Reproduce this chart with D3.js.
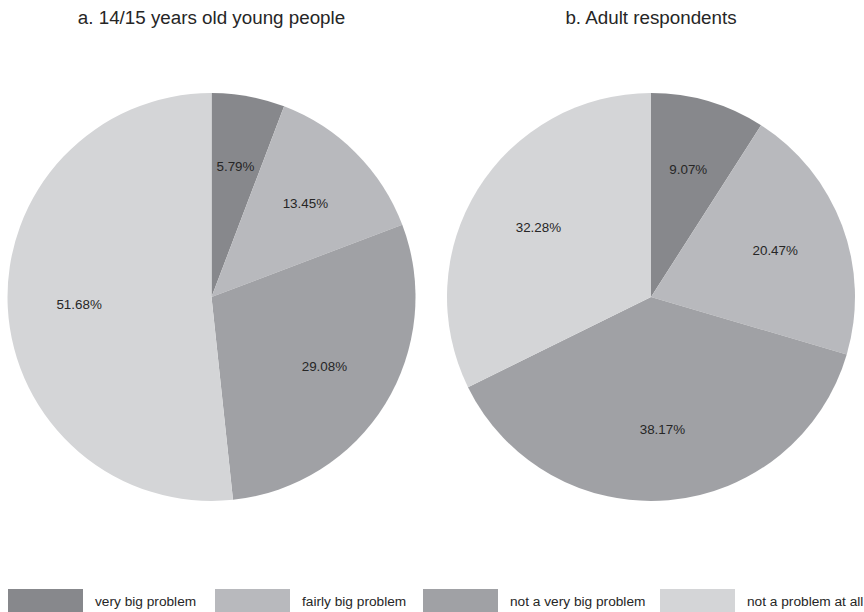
<!DOCTYPE html>
<html><head><meta charset="utf-8">
<script src="https://cdn.jsdelivr.net/npm/d3@7"></script>
<style>body{margin:0;background:#fff}svg{display:block}text{font-family:"Liberation Sans",Arial,sans-serif;fill:#262626}</style>
</head><body>
<script>
const categories = ["very big problem","fairly big problem","not a very big problem","not a problem at all"];
const youngValues = [5.79, 13.45, 29.08, 51.68];
const adultValues = [9.07, 20.47, 38.17, 32.28];
const titles = ["a. 14/15 years old young people","b. Adult respondents"];
const colors = ["#87888c","#b8b9bd","#a0a1a5","#d4d5d7"];

const W=864,H=612;
const svg=d3.select("body").append("svg").attr("width",W).attr("height",H);
const color=d3.scaleOrdinal().domain(categories).range(colors);
const R=204;
const pie=d3.pie().sort(null).value(d=>d.v);
const arc=d3.arc().innerRadius(0).outerRadius(R);
const labelArc=d3.arc().innerRadius(R*0.65).outerRadius(R*0.65);

[[youngValues,211.5,titles[0]],[adultValues,651,titles[1]]].forEach(([vals,cx,title])=>{
  const data=categories.map((c,i)=>({c,v:vals[i]}));
  const g=svg.append("g").attr("transform",`translate(${cx},297)`);
  const arcs=pie(data);
  g.selectAll("path").data(arcs).join("path").attr("d",arc).attr("fill",d=>color(d.data.c));
  g.selectAll("text").data(arcs).join("text")
    .attr("transform",d=>`translate(${labelArc.centroid(d)})`)
    .attr("text-anchor","middle").attr("dy","0.35em")
    .style("font-size","13.4px")
    .text(d=>d.data.v.toFixed(2)+"%");
  svg.append("text").attr("x",cx).attr("y",24).attr("text-anchor","middle")
    .style("font-size","18.8px").text(title);
});

// legend
const legendX=d3.scaleOrdinal().domain(categories).range([8,215,423,660]);
const lg=svg.append("g");
categories.forEach(c=>{
  const x=legendX(c);
  lg.append("rect").attr("x",x).attr("y",589).attr("width",75).attr("height",26).attr("fill",color(c));
  lg.append("text").attr("x",x+87).attr("y",606).style("font-size","13.7px").text(c);
});
</script>
</body></html>
